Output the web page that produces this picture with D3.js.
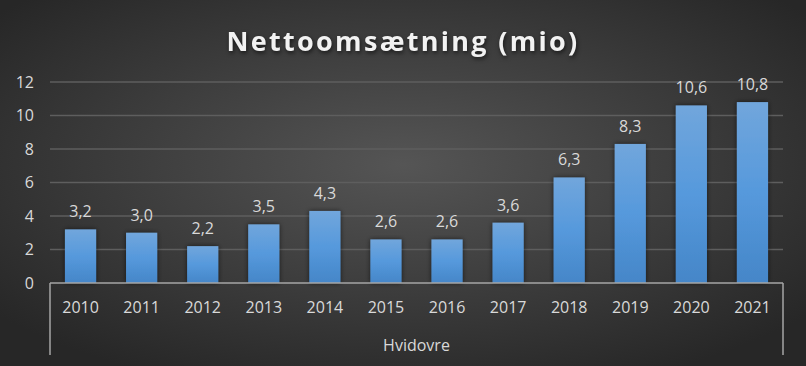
<!DOCTYPE html>
<html>
<head>
<meta charset="utf-8">
<script src="https://cdn.jsdelivr.net/npm/d3@7"></script>
<style>
  html, body { margin: 0; padding: 0; background: #333; }
  svg { display: block; font-family: "Open Sans", "Noto Sans", sans-serif; }
</style>
</head>
<body>
<div id="chart"></div>
<script>
const years = ["2010", "2011", "2012", "2013", "2014", "2015", "2016", "2017", "2018", "2019", "2020", "2021"];
const values = [3.2, 3.0, 2.2, 3.5, 4.3, 2.6, 2.6, 3.6, 6.3, 8.3, 10.6, 10.8];
const yTicks = [0, 2, 4, 6, 8, 10, 12];
const groupLabel = "Hvidovre";
const title = "Nettoomsætning (mio)";

const width = 806, height = 366;
const margin = { top: 82, right: 23, bottom: 83, left: 50 };

const svg = d3.select("#chart").append("svg")
  .attr("width", width)
  .attr("height", height);

const defs = svg.append("defs");

const bg = defs.append("radialGradient")
  .attr("id", "bg")
  .attr("cx", "50%").attr("cy", "45%").attr("r", "65%");
bg.append("stop").attr("offset", "0%").attr("stop-color", "#555555");
bg.append("stop").attr("offset", "100%").attr("stop-color", "#272727");

const barGrad = defs.append("linearGradient")
  .attr("id", "bar")
  .attr("x1", 0).attr("y1", 0).attr("x2", 0).attr("y2", 1);
barGrad.append("stop").attr("offset", "0%").attr("stop-color", "#71a6dc");
barGrad.append("stop").attr("offset", "50%").attr("stop-color", "#5699dc");
barGrad.append("stop").attr("offset", "100%").attr("stop-color", "#4586c8");

const shadow = defs.append("filter").attr("id", "shadow")
  .attr("x", "-30%").attr("y", "-10%").attr("width", "160%").attr("height", "120%");
shadow.append("feDropShadow")
  .attr("dx", 0).attr("dy", 0).attr("stdDeviation", 2.5)
  .attr("flood-color", "#000").attr("flood-opacity", 0.6);

svg.append("rect")
  .attr("width", width).attr("height", height)
  .attr("fill", "url(#bg)");

const x = d3.scaleBand()
  .domain(years)
  .range([margin.left, width - margin.right])
  .paddingInner(0.49)
  .paddingOuter(0.245);

const y = d3.scaleLinear()
  .domain([0, 12])
  .range([height - margin.bottom, margin.top]);

// title
svg.append("text")
  .attr("x", width / 2)
  .attr("y", 51)
  .attr("text-anchor", "middle")
  .attr("fill", "#f2f2f2")
  .attr("font-size", 27)
  .attr("font-weight", "bold")
  .attr("letter-spacing", 2.3)
  .style("filter", "drop-shadow(1px 2px 2px rgba(0,0,0,0.6))")
  .text(title);

// gridlines
svg.append("g")
  .selectAll("line")
  .data(yTicks.filter(d => d > 0))
  .join("line")
  .attr("x1", margin.left)
  .attr("x2", width - margin.right)
  .attr("y1", d => y(d))
  .attr("y2", d => y(d))
  .attr("stroke", "#5e5e5e")
  .attr("stroke-width", 1.5);

// y labels
svg.append("g")
  .selectAll("text")
  .data(yTicks)
  .join("text")
  .attr("x", 34)
  .attr("y", d => y(d))
  .attr("dy", "0.35em")
  .attr("text-anchor", "end")
  .attr("fill", "#d9d9d9")
  .attr("font-size", 16)
  .text(d => d);

// bars
svg.append("g")
  .selectAll("rect")
  .data(values)
  .join("rect")
  .attr("x", (d, i) => x(years[i]))
  .attr("width", x.bandwidth())
  .attr("y", d => y(d))
  .attr("height", d => y(0) - y(d))
  .attr("fill", "url(#bar)")
  .attr("filter", "url(#shadow)");

// data labels
svg.append("g")
  .selectAll("text")
  .data(values)
  .join("text")
  .attr("x", (d, i) => x(years[i]) + x.bandwidth() / 2)
  .attr("y", d => y(d) - 12)
  .attr("text-anchor", "middle")
  .attr("fill", "#d9d9d9")
  .attr("font-size", 16)
  .text(d => d3.format(".1f")(d).replace(".", ","));

// x axis
const axisG = svg.append("g").attr("stroke", "#a6a6a6").attr("stroke-width", 1.5);
axisG.append("line")
  .attr("x1", margin.left).attr("x2", width - margin.right)
  .attr("y1", y(0)).attr("y2", y(0));
axisG.append("line")
  .attr("x1", margin.left).attr("x2", margin.left)
  .attr("y1", y(0)).attr("y2", y(0) + 72);
axisG.append("line")
  .attr("x1", width - margin.right).attr("x2", width - margin.right)
  .attr("y1", y(0)).attr("y2", y(0) + 72);

svg.append("g")
  .selectAll("text")
  .data(years)
  .join("text")
  .attr("x", d => x(d) + x.bandwidth() / 2)
  .attr("y", y(0) + 30)
  .attr("text-anchor", "middle")
  .attr("fill", "#d9d9d9")
  .attr("font-size", 16)
  .text(d => d);

svg.append("text")
  .attr("x", (margin.left + width - margin.right) / 2)
  .attr("y", y(0) + 68)
  .attr("text-anchor", "middle")
  .attr("fill", "#d9d9d9")
  .attr("font-size", 16)
  .text(groupLabel);
</script>
</body>
</html>
